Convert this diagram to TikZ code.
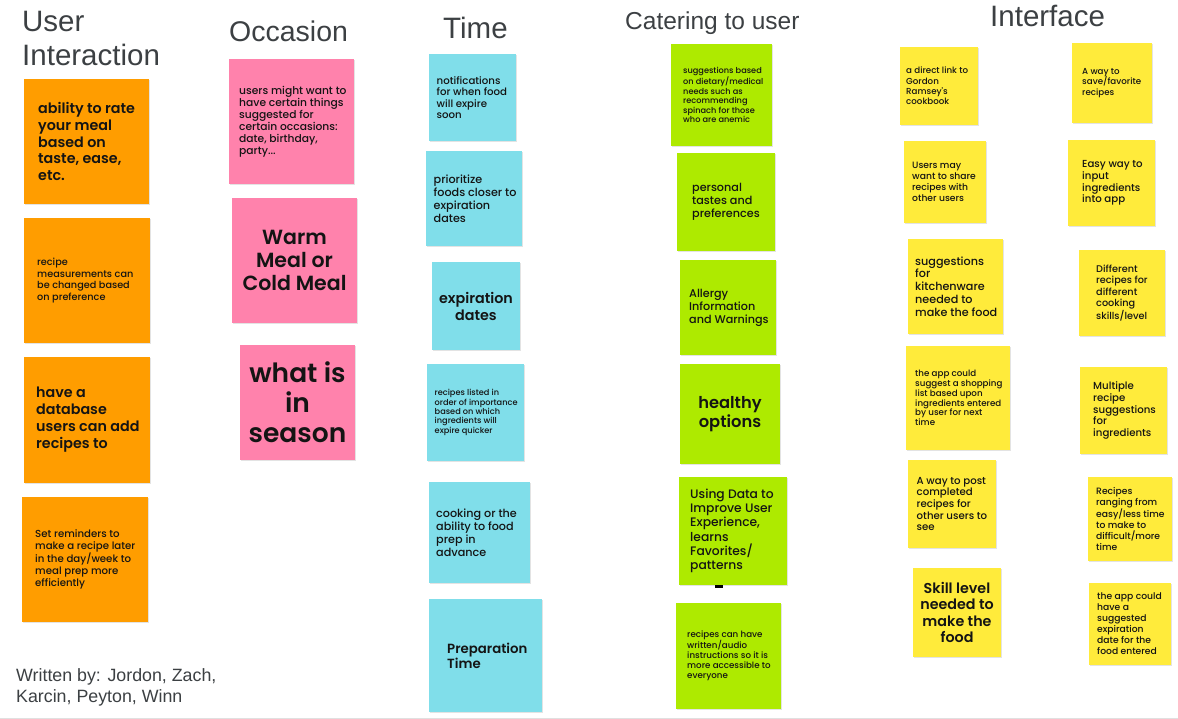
\documentclass[tikz,border=0pt]{standalone}
\usepackage{fontspec}
\setmainfont{Poppins}
\newfontfamily\titlefont{Liberation Sans}
\newfontfamily\stfont{Poppins Medium}[BoldFont={Poppins SemiBold}]
\usetikzlibrary{shadows}
\definecolor{orng}{HTML}{FF9D00}
\definecolor{pnk}{HTML}{FF82AC}
\definecolor{cyn}{HTML}{80DEEA}
\definecolor{grn}{HTML}{AEEA00}
\definecolor{ylw}{HTML}{FFEB3B}
\definecolor{ttl}{HTML}{3C4043}
\definecolor{txt}{HTML}{141414}
\newcommand\fs[2]{\fontsize{#1}{#2}\selectfont}
\tikzset{
 sticky/.style={draw=none, inner sep=0, drop shadow={shadow xshift=0.5pt, shadow yshift=-1.2pt, opacity=0.22}},
 stxt/.style={inner sep=0, align=left, text=txt},
 ctxt/.style={inner sep=0, align=center, text=txt},
 ttlnode/.style={inner sep=0, anchor=base west, text=ttl},
}
% name, colour, x1, y1, x2, y2, text left, font, text
\newcommand\stk[9]{%
 \node[sticky, fill=#2, minimum width={#5-#3}, minimum height={#6-#4}] (#1) at ({(#3+#5)/2},{(#4+#6)/2}) {};
 \node[stxt, anchor=west, font={\stfont#8}] (#1t) at (#7,{(#4+#6)/2}) {#9};}
% name, colour, x1, y1, x2, y2, font, text
\newcommand\stc[8]{%
 \node[sticky, fill=#2, minimum width={#5-#3}, minimum height={#6-#4}] (#1) at ({(#3+#5)/2},{(#4+#6)/2}) {};
 \node[ctxt, font={\stfont#7}] (#1t) at (#1.center) {#8};}
\begin{document}
\begin{tikzpicture}[x=1pt,y=-1pt]
\useasboundingbox (0,0) rectangle (1178,719);
\fill[white] (0,0) rectangle (1178,719);
\draw[black!12, line width=1pt] (0,718) -- (1178,718);
% titles
\node[ttlnode, font={\titlefont\fs{29.5}{32}}] (tu1) at (22,32) {User};
\node[ttlnode, font={\titlefont\fs{29.5}{32}}] (tu2) at (22,66) {Interaction};
\node[ttlnode, font={\titlefont\fs{28.5}{32}}] (toc) at (229,42) {Occasion};
\node[ttlnode, font={\titlefont\fs{29.5}{32}}] (tti) at (443,39) {Time};
\node[ttlnode, font={\titlefont\fs{24.5}{28}}] (tca) at (625,30) {Catering to user};
\node[ttlnode, font={\titlefont\fs{29.5}{32}}] (tin) at (990,27) {Interface};
\node[ttlnode, font={\titlefont\fs{17.8}{21}}] (tw1) at (16,681) {Written by: Jordon, Zach,};
\node[ttlnode, font={\titlefont\fs{17.8}{21}}] (tw2) at (16,702) {Karcin, Peyton, Winn};
% User Interaction
\stk{u1}{orng}{24}{79}{149}{204}{38}{\fs{14.3}{16.7}\bfseries}{ability to rate\\your meal\\based on\\taste, ease,\\etc.}
\stk{u2}{orng}{24}{218}{150}{343}{37}{\fs{9.7}{11.7}}{recipe\\measurements can\\be changed based\\on preference}
\stk{u3}{orng}{24}{357}{150}{483}{36}{\fs{14.3}{17}\bfseries}{have a\\database\\users can add\\recipes to}
\stk{u4}{orng}{22}{497}{148}{622}{35}{\fs{10.2}{12}}{Set reminders to\\make a recipe later\\in the day/week to\\meal prep more\\efficiently}
% Occasion
\stk{o1}{pnk}{229}{59}{354}{184}{239}{\fs{10.7}{12}}{users might want to\\have certain things\\suggested for\\certain occasions:\\date, birthday,\\party...}
\stc{o2}{pnk}{232}{198}{357}{323}{\fs{20.5}{23}\bfseries}{Warm\\Meal or\\Cold Meal}
\stc{o3}{pnk}{240}{345}{355}{460}{\fs{26.5}{30}\bfseries}{what is\\in\\season}
% Time
\stk{t1}{cyn}{429}{54}{516}{141}{436.5}{\fs{10.2}{11.5}}{notifications\\for when food\\will expire\\soon}
\stk{t2}{cyn}{426}{151}{522}{246}{433.5}{\fs{11.2}{13}}{prioritize\\foods closer to\\expiration\\dates}
\stc{t3}{cyn}{432}{262}{520}{350}{\fs{14.3}{17}\bfseries}{expiration\\dates}
\stk{t4}{cyn}{427}{364}{524}{461}{434.5}{\fs{8.2}{9.3}}{recipes listed in\\order of importance\\based on which\\ingredients will\\expire quicker}
\stk{t5}{cyn}{429}{482}{530}{583}{436}{\fs{11.2}{13}}{cooking or the\\ability to food\\prep in\\advance}
\stk{t6}{cyn}{429}{599}{542}{712}{447}{\fs{13.3}{15}\bfseries}{Preparation\\Time}
% Catering to user
\stk{c1}{grn}{671}{44}{772}{146}{683}{\fs{8.2}{9.6}}{suggestions based\\on dietary/medical\\needs such as\\recommending\\spinach for those\\who are anemic}
\stk{c2}{grn}{677}{153}{775}{251}{692}{\fs{11.2}{13}}{personal\\tastes and\\preferences}
\stk{c3}{grn}{680}{260}{776}{355}{689}{\fs{11.2}{13}}{Allergy\\Information\\and Warnings}
\stc{c4}{grn}{680}{364}{780}{464}{\fs{16.3}{19}\bfseries}{healthy\\options}
\stk{c5}{grn}{679}{477}{787}{585}{690}{\fs{12.3}{14.3}}{Using Data to\\Improve User\\Experience,\\learns\\Favorites/\\patterns}
\fill[black] (715,585) rectangle (723,587.5);
\stk{c6}{grn}{676}{603}{781}{709}{687}{\fs{8.7}{10}}{recipes can have\\written/audio\\instructions so it is\\more accessible to\\everyone}
% Interface left
\stk{i1}{ylw}{900}{47}{978}{125}{906}{\fs{8.7}{10.3}}{a direct link to\\Gordon\\Ramsey's\\cookbook}
\stk{i2}{ylw}{904}{141}{986}{223}{912}{\fs{9.2}{11}}{Users may\\want to share\\recipes with\\other users}
\stk{i3}{ylw}{908}{239}{1003}{334}{915}{\fs{11.2}{12.8}}{suggestions\\for\\kitchenware\\needed to\\make the food}
\stk{i4}{ylw}{906}{346}{1010}{450}{915}{\fs{8.7}{9.8}}{the app could\\suggest a shopping\\list based upon\\ingredients entered\\by user for next\\time}
\stk{i5}{ylw}{908}{460}{996}{548}{916.5}{\fs{10.2}{11.7}}{A way to post\\completed\\recipes for\\other users to\\see}
\stc{i6}{ylw}{913}{568}{1001}{657}{\fs{14.3}{16.5}\bfseries}{Skill level\\needed to\\make the\\food}
% Interface right
\stk{j1}{ylw}{1072}{43}{1152}{123}{1082}{\fs{8.7}{10.7}}{A way to\\save/favorite\\recipes}
\stk{j2}{ylw}{1068}{140}{1155}{226}{1082}{\fs{10.2}{11.7}}{Easy way to\\input\\ingredients\\into app}
\stk{j3}{ylw}{1079}{250}{1165}{336}{1096}{\fs{9.7}{11.3}}{Different\\recipes for\\different\\cooking\\skills/level}
\stk{j4}{ylw}{1080}{367}{1167}{454}{1093}{\fs{10.2}{11.7}}{Multiple\\recipe\\suggestions\\for\\ingredients}
\stk{j5}{ylw}{1088}{477}{1172}{561}{1096}{\fs{9.2}{11}}{Recipes\\ranging from\\easy/less time\\to make to\\difficult/more\\time}
\stk{j6}{ylw}{1089}{583}{1171}{665}{1097}{\fs{9.2}{11}}{the app could\\have a\\suggested\\expiration\\date for the\\food entered}
\end{tikzpicture}
\end{document}
